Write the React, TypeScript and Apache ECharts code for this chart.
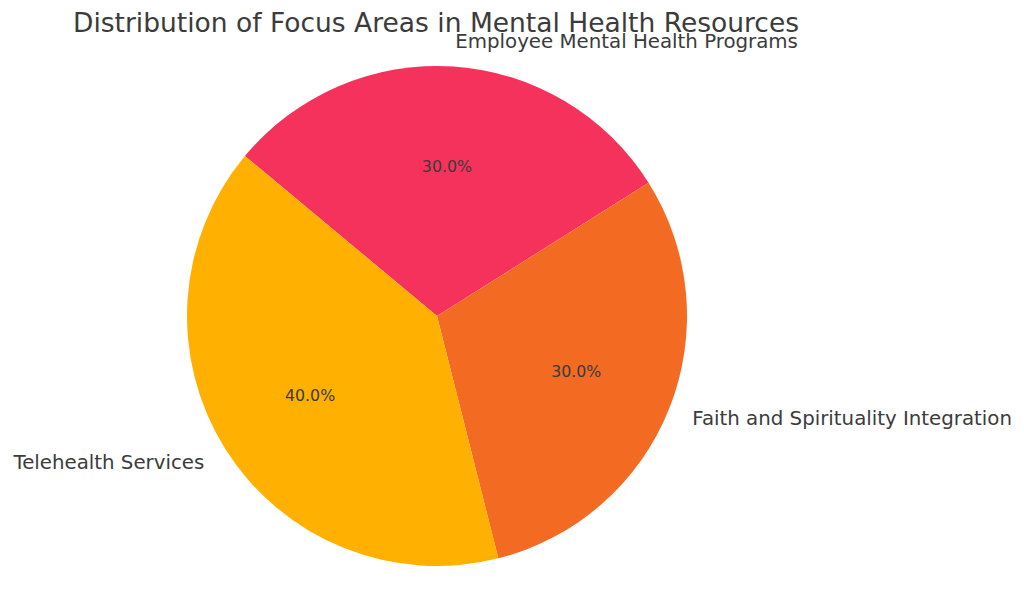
import React, { useEffect, useRef } from "react";
import * as echarts from "echarts";

const titleText = "Distribution of Focus Areas in Mental Health Resources";
const categories = ["Employee Mental Health Programs", "Faith and Spirituality Integration", "Telehealth Services"];
const values = [30, 30, 40];
const colors = ["#F5325B", "#F36B23", "#FFB000"];

export default function App() {
  const ref = useRef<HTMLDivElement>(null);
  useEffect(() => {
    if (!ref.current) return;
    const chart = echarts.init(ref.current, undefined, { renderer: "svg" });
    const total = values.reduce((a, b) => a + b, 0);
    const data = categories.map((name, i) => ({ name, value: values[i], itemStyle: { color: colors[i] } }));
    const font = "DejaVu Sans";
    chart.setOption({
      animation: false,
      backgroundColor: "#ffffff",
      title: {
        text: titleText,
        left: 431,
        textAlign: "center",
        top: 4,
        textStyle: { fontFamily: font, fontSize: 26.5, fontWeight: "normal", color: "#3b3b3b" },
      },
      series: [
        {
          type: "pie",
          center: [437, 316],
          radius: [0, 250],
          startAngle: 140.2,
          clockwise: true,
          avoidLabelOverlap: false,
          data,
          label: {
            show: true,
            position: "outside",
            fontFamily: font,
            fontSize: 19.8,
            color: "#3b3b3b",
            distanceToLabelLine: 0,
          },
          labelLine: { show: false, length: 25, length2: 0 },
          emphasis: { disabled: true },
          silent: true,
        },
        {
          type: "pie",
          center: [437, 316],
          radius: [0, 294],
          startAngle: 140.2,
          clockwise: true,
          avoidLabelOverlap: false,
          z: 5,
          data: categories.map((name, i) => ({ name, value: values[i] })),
          itemStyle: { color: "rgba(0,0,0,0)" },
          label: {
            show: true,
            position: "inside",
            fontFamily: font,
            fontSize: 15.8,
            color: "#3b3b3b",
            formatter: (p: any) => ((p.value / total) * 100).toFixed(1) + "%",
          },
          labelLine: { show: false },
          emphasis: { disabled: true },
          silent: true,
        },
      ],
    });
    return () => chart.dispose();
  }, []);
  return <div ref={ref} style={{ position: "fixed", left: 0, top: 0, width: 1024, height: 604 }} />;
}
